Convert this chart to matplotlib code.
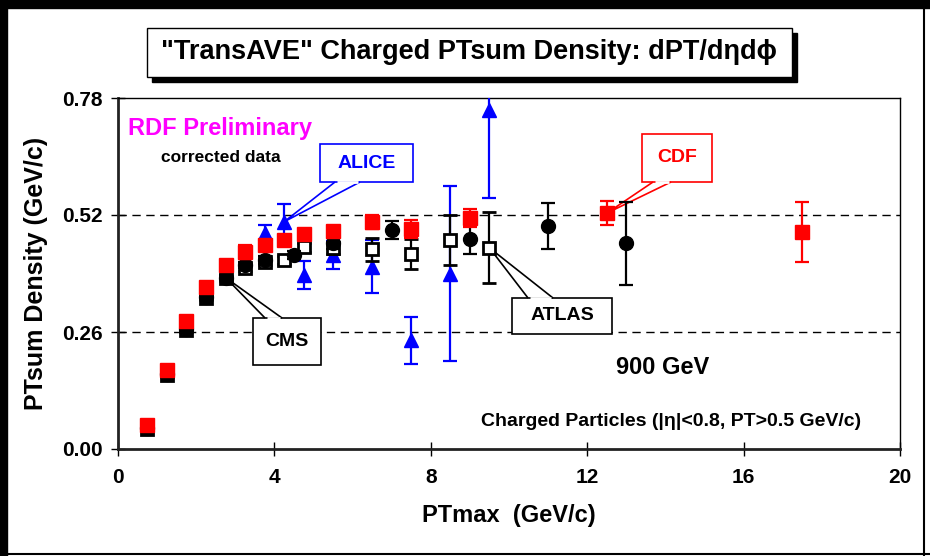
import matplotlib
matplotlib.use("Agg")
import matplotlib.pyplot as plt
from matplotlib import font_manager as fm
from matplotlib.patches import Rectangle, Polygon

# ---------------- data ----------------
cms_x = [0.75, 1.25, 1.75, 2.25, 2.75, 3.25, 3.75, 4.5, 5.5, 7.0, 9.0, 11.0, 13.0]
cms_y = [0.047, 0.167, 0.266, 0.338, 0.381, 0.409, 0.420, 0.431, 0.457, 0.487, 0.466, 0.496, 0.457]
cms_e = [0.004, 0.004, 0.005, 0.005, 0.006, 0.007, 0.008, 0.009, 0.012, 0.020, 0.033, 0.051, 0.093]

atlas_x = [0.75, 1.25, 1.75, 2.25, 2.75, 3.25, 3.75, 4.25, 4.75, 5.5, 6.5, 7.5, 8.5, 9.5]
atlas_y = [0.045, 0.164, 0.264, 0.336, 0.379, 0.402, 0.416, 0.420, 0.448, 0.446, 0.444, 0.433, 0.464, 0.447]
atlas_e = [0.003, 0.003, 0.004, 0.004, 0.005, 0.006, 0.007, 0.008, 0.010, 0.012, 0.026, 0.033, 0.055, 0.079]

cdf_x = [0.75, 1.25, 1.75, 2.25, 2.75, 3.25, 3.75, 4.25, 4.75, 5.5, 6.5, 7.5, 9.0, 12.5, 17.5]
cdf_y = [0.053, 0.176, 0.285, 0.360, 0.410, 0.438, 0.453, 0.464, 0.478, 0.484, 0.505, 0.489, 0.514, 0.524, 0.482]
cdf_e = [0.003, 0.003, 0.004, 0.005, 0.006, 0.016, 0.010, 0.010, 0.011, 0.012, 0.015, 0.020, 0.020, 0.027, 0.066]

alice_x = [3.75, 4.25, 4.75, 5.5, 6.5, 7.5, 8.5, 9.5]
alice_y = [0.479, 0.505, 0.387, 0.431, 0.405, 0.242, 0.390, 0.753]
alice_e = [0.018, 0.040, 0.031, 0.031, 0.059, 0.052, 0.194, 0.195]

x_ticks = [0, 4, 8, 12, 16, 20]
y_ticks = [0.00, 0.26, 0.52, 0.78]
y_tick_labels = ["0.00", "0.26", "0.52", "0.78"]

title = "\"TransAVE\" Charged PTsum Density: dPT/d\u03b7d\u03d5"
x_label = "PTmax  (GeV/c)"
y_label = "PTsum Density (GeV/c)"

# ---------------- fonts ----------------
names = {f.name for f in fm.fontManager.ttflist}
if "Liberation Sans Narrow" in names:
    FAM = ["Liberation Sans Narrow", "DejaVu Sans"]
    K = 1.18
else:
    FAM = ["Liberation Sans", "DejaVu Sans"]
    K = 1.0
plt.rcParams["font.family"] = FAM
plt.rcParams["font.weight"] = "bold"

def fs(v):
    return v * K

W, H = 930, 556
fig = plt.figure(figsize=(W / 100, H / 100), dpi=100)

def P(x, y):
    return (x / W, 1 - y / H)

# frame of the picture
fig.patches.append(Rectangle(P(0, 8), 1, 8 / H, transform=fig.transFigure, color="black", zorder=0))
fig.patches.append(Rectangle((0, 0), 7 / W, 1, transform=fig.transFigure, color="black", zorder=0))
fig.lines.append(plt.Line2D([924 / W, 924 / W], [0, 1], transform=fig.transFigure, color="black", lw=1.5))
fig.lines.append(plt.Line2D([0, 1], [1 - 554 / H, 1 - 554 / H], transform=fig.transFigure, color="black", lw=1.5))

# axes: x 0..20 -> px 118..900 ; y 0..0.78 -> px 449..98
ax = fig.add_axes([118 / W, 1 - 449 / H, (900 - 118) / W, (449 - 98) / H])
ax.set_xlim(0, 20)
ax.set_ylim(0, 0.78)

for y in (0.26, 0.52):
    ax.axhline(y, color="black", lw=1, dashes=(6, 4), zorder=1)

for s in ("left", "bottom"):
    ax.spines[s].set_linewidth(2)
    ax.spines[s].set_color("#222222")
for s in ("top", "right"):
    ax.spines[s].set_linewidth(1)

ax.set_xticks(x_ticks)
ax.set_xticklabels([str(t) for t in x_ticks])
ax.set_yticks(y_ticks)
ax.set_yticklabels(y_tick_labels)
ax.tick_params(axis="both", direction="inout", length=10, width=1, labelsize=fs(15))
ax.tick_params(axis="x", pad=9)
ax.tick_params(axis="y", pad=6)
for lab in ax.get_xticklabels() + ax.get_yticklabels():
    lab.set_fontweight("bold")

ax.set_xlabel(x_label, fontsize=fs(17), fontweight="bold", labelpad=12)
ax.set_ylabel(y_label, fontsize=fs(18), fontweight="bold", labelpad=10)

eb = dict(elinewidth=1.6, capthick=1.6, capsize=5, linestyle="none")
ax.errorbar(alice_x, alice_y, yerr=alice_e, fmt="^", color="#0000FF", ms=10, zorder=3, **eb)
ax.errorbar(atlas_x, atlas_y, yerr=atlas_e, fmt="s", color="black", mfc="white", mec="black",
            mew=2, ms=9, zorder=4, **eb)
ax.errorbar(cms_x, cms_y, yerr=cms_e, fmt="o", color="black", ms=10, zorder=5, **eb)
ax.errorbar(cdf_x, cdf_y, yerr=cdf_e, fmt="s", color="#FF0000", ms=9.5, zorder=6, **eb)

# ---------------- callouts (layout in pixels) ----------------
def dx(px):
    return (px - 118) / 39.1

def dy(py):
    return (449 - py) * 0.78 / 351

def callout(text, color, box, base, base_y, apex):
    x0, y0, x1, y1 = box
    rect = Rectangle((dx(x0), dy(y1)), dx(x1) - dx(x0), dy(y0) - dy(y1),
                     facecolor="white", edgecolor=color, lw=1.2, zorder=2.6)
    ax.add_patch(rect)
    wedge = Polygon([(dx(base[0]), dy(base_y)), apex, (dx(base[1]), dy(base_y))],
                    closed=False, fill=False, edgecolor=color, lw=1.2, zorder=2.7)
    ax.add_patch(wedge)
    ax.plot([dx(base[0]) + 0.04, dx(base[1]) - 0.04], [dy(base_y), dy(base_y)],
            color="white", lw=2, zorder=2.8, solid_capstyle="butt")
    ax.text((dx(x0) + dx(x1)) / 2, (dy(y0) + dy(y1)) / 2, text, color=color,
            fontsize=fs(14), fontweight="bold", ha="center", va="center", zorder=2.9)

callout("ALICE", "#0000FF", (320, 144, 413, 182), (335, 360), 182, (alice_x[1], alice_y[1]))
callout("CDF", "#FF0000", (642, 134, 712, 182), (653, 671), 182, (cdf_x[13], cdf_y[13]))
callout("CMS", "black", (253, 318, 321, 365), (265, 282), 318, (cms_x[4], cms_y[4]))
callout("ATLAS", "black", (512, 298, 612, 334), (528, 553), 298, (atlas_x[13], atlas_y[13]))

# ---------------- texts ----------------
fig.text(*P(128, 129), "RDF Preliminary", color="#FF00FF", fontsize=fs(17),
         fontweight="bold", ha="left", va="center")
fig.text(*P(161, 158), "corrected data", color="black", fontsize=fs(12.5),
         fontweight="bold", ha="left", va="center")
fig.text(*P(663, 367), "900 GeV", color="black", fontsize=fs(17),
         fontweight="bold", ha="center", va="center")
fig.text(*P(671, 422), "Charged Particles (|\u03b7|<0.8, PT>0.5 GeV/c)", color="black",
         fontsize=fs(14), fontweight="bold", ha="center", va="center")

# title box with shadow
fig.patches.append(Rectangle(P(152, 82), (792 - 147) / W, (77 - 28) / H,
                             transform=fig.transFigure, color="black", zorder=1))
fig.patches.append(Rectangle(P(147, 77), (792 - 147) / W, (77 - 28) / H,
                             transform=fig.transFigure, facecolor="white",
                             edgecolor="black", lw=1, zorder=2))
fig.text(*P(469, 52), title, fontsize=fs(19.5), fontweight="bold", ha="center",
         va="center", zorder=3)

fig.savefig("out.png", dpi=100)
